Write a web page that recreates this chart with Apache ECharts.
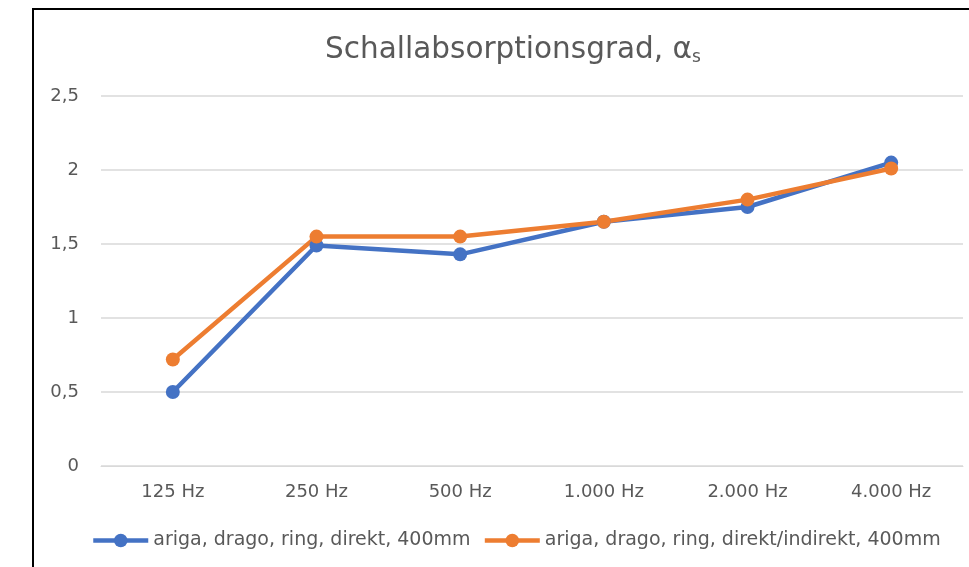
<!DOCTYPE html>
<html>
<head>
<meta charset="utf-8">
<script src="https://cdn.jsdelivr.net/npm/echarts@6/dist/echarts.min.js"></script>
<style>
html,body{margin:0;padding:0;background:#fff;}
#chart{width:969px;height:567px;}
</style>
</head>
<body>
<div id="chart"></div>
<script>
const categories = ['125 Hz', '250 Hz', '500 Hz', '1.000 Hz', '2.000 Hz', '4.000 Hz'];
const seriesNames = ['ariga, drago, ring, direkt, 400mm', 'ariga, drago, ring, direkt/indirekt, 400mm'];
const direkt = [0.5, 1.49, 1.43, 1.65, 1.75, 2.05];
const direktIndirekt = [0.72, 1.55, 1.55, 1.65, 1.80, 2.01];
const yTicks = [0, 0.5, 1, 1.5, 2, 2.5];

const FONT = '"DejaVu Sans", sans-serif';
const chart = echarts.init(document.getElementById('chart'), null, {renderer: 'canvas'});
chart.setOption({
  animation: false,
  backgroundColor: '#fff',
  graphic: [{
    type: 'rect',
    shape: {x: 33, y: 9, width: 1000, height: 700},
    style: {fill: 'none', stroke: '#000', lineWidth: 2},
    z: -1
  }],
  title: {
    text: 'Schallabsorptionsgrad, α{sub|s}',
    left: 508,
    textAlign: 'center',
    top: 30,
    textStyle: {
      fontFamily: FONT, fontSize: 29.5, fontWeight: 'normal', color: '#595959',
      rich: {
        sub: {fontFamily: FONT, fontSize: 17, color: '#595959', padding: [14, 0, 0, 0]}
      }
    }
  },
  grid: {left: 101, right: 6, top: 96, bottom: 101, containLabel: false},
  legend: {
    bottom: 17,
    left: 91,
    padding: 0,
    itemWidth: 55,
    itemHeight: 17,
    itemGap: 12,
    lineStyle: {width: 4.5},
    textStyle: {fontFamily: FONT, fontSize: 19, color: '#595959'},
    data: seriesNames
  },
  xAxis: {
    type: 'category',
    data: categories,
    axisLine: {show: true, lineStyle: {color: '#d9d9d9', width: 1}},
    axisTick: {show: false},
    axisLabel: {fontFamily: FONT, fontSize: 18, color: '#595959', margin: 17}
  },
  yAxis: {
    type: 'value',
    min: yTicks[0],
    max: yTicks[yTicks.length - 1],
    interval: 0.5,
    axisLine: {show: false},
    axisTick: {show: false},
    splitLine: {lineStyle: {color: '#d9d9d9', width: 1.5}},
    axisLabel: {
      fontFamily: FONT, fontSize: 18, color: '#595959', margin: 22,
      formatter: v => String(v).replace('.', ',')
    }
  },
  series: [
    {
      name: seriesNames[0], type: 'line', data: direkt,
      symbol: 'circle', symbolSize: 14,
      lineStyle: {color: '#4472C4', width: 4.5},
      itemStyle: {color: '#4472C4'}
    },
    {
      name: seriesNames[1], type: 'line', data: direktIndirekt,
      symbol: 'circle', symbolSize: 14,
      lineStyle: {color: '#ED7D31', width: 4.5},
      itemStyle: {color: '#ED7D31'}
    }
  ]
});
</script>
</body>
</html>
